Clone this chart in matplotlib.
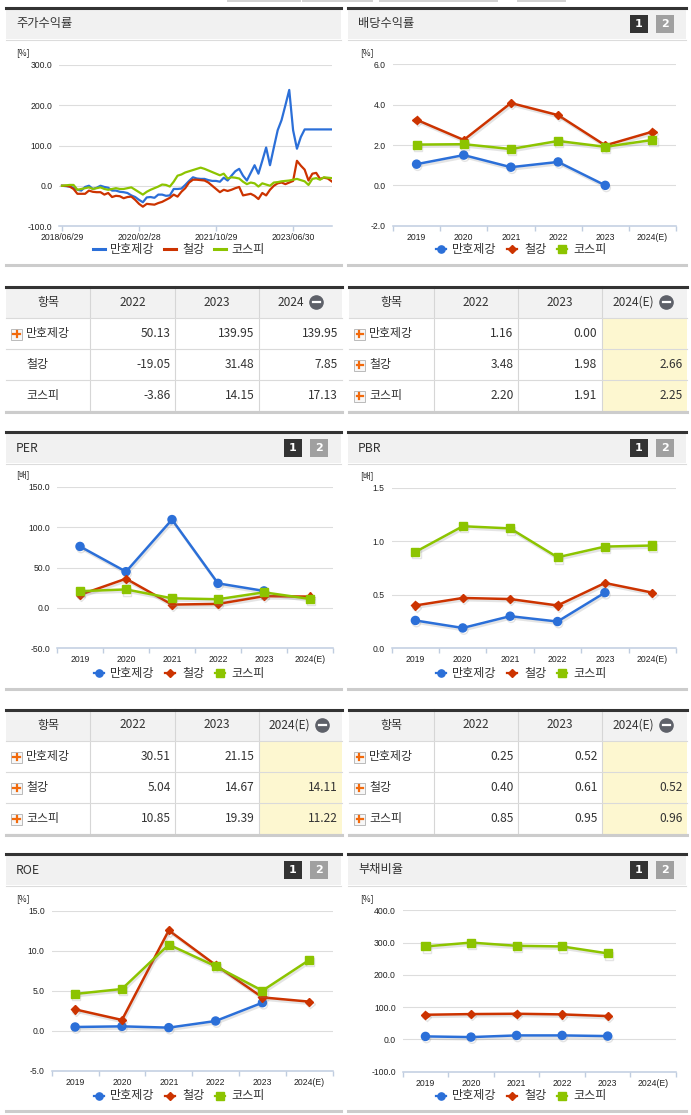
import numpy as np
import matplotlib
matplotlib.use('Agg')
import matplotlib.pyplot as plt
from matplotlib.patches import Rectangle
from matplotlib.lines import Line2D
import matplotlib.patheffects as pe

plt.rcParams['font.family'] = ['Noto Sans CJK KR', 'DejaVu Sans']

W, H = 691, 1115
BLUE, RED, GREEN = '#2b6fd8', '#cc3300', '#8cc400'
NUMF = 'Liberation Sans'

names = ['만호제강', '철강', '코스피']
years = ['2019', '2020', '2021', '2022', '2023', '2024(E)']
nan = np.nan

# 주가수익률 (monthly, 2018/06 .. 2024/04)
ret_dates = ['2018/06/29', '2020/02/28', '2021/10/29', '2023/06/30']
ret_mh = [0, -1, -2, -5, -10, -12, -3, 0, -8, -5, 0, -3, -5, -12, -12, -15,
          -16, -18, -24, -28, -35, -41, -29, -28, -30, -22, -22, -25, -24, -8,
          -8, -7, 2, 12, 21, 18, 17, 17, 14, 12, 12, 10, 20, 13, 25, 36, 42,
          25, 13, 32, 51, 30, 62, 95, 51, 95, 138, 163, 200, 238, 138, 92, 121,
          139.95, 139.95, 139.95, 139.95, 139.95, 139.95, 139.95, 139.95]
ret_st = [0, 0, -2, -8, -20, -20, -20, -12, -15, -16, -16, -22, -18, -28, -25,
          -26, -31, -28, -27, -35, -45, -52, -45, -46, -47, -43, -40, -35, -30,
          -22, -27, -15, -6, 8, 15, 15, 14, 13, 8, 0, -8, -16, -10, -13, -10,
          -6, -3, -24, -22, -20, -25, -33, -18, -24, -10, 0, 6, 8, 4, 8, 12,
          62, 50, 40, 13, 30, 32, 17, 20, 18, 11]
ret_ks = [0, 1, 2, 2, -10, -8, -6, -4, -8, -6, -4, -8, -10, -8, -6, -8, -8, -6,
          -4, -10, -16, -22, -15, -10, -6, -2, 3, 2, -2, 10, 25, 28, 33, 36, 39,
          42, 45, 42, 38, 34, 30, 26, 30, 18, 21, 20, 18, 10, 4, 8, 6, -2, 6, 3,
          0, 8, 9, 11, 12, 13, 15, 17, 14, 11, 2, 17, 19, 15, 21, 20, 19]

div_mh = [1.05, 1.50, 0.90, 1.16, 0.00, nan]
div_st = [3.25, 2.25, 4.08, 3.48, 1.98, 2.66]
div_ks = [2.02, 2.04, 1.80, 2.20, 1.91, 2.25]
per_mh = [76.3, 45.0, 109.6, 30.51, 21.15, nan]
per_st = [16.3, 36.3, 4.2, 5.04, 14.67, 14.11]
per_ks = [20.8, 23.0, 12.0, 10.85, 19.39, 11.22]
pbr_mh = [0.26, 0.19, 0.30, 0.25, 0.52, nan]
pbr_st = [0.40, 0.47, 0.46, 0.40, 0.61, 0.52]
pbr_ks = [0.90, 1.14, 1.12, 0.85, 0.95, 0.96]
roe_mh = [0.50, 0.58, 0.42, 1.25, 3.54, nan]
roe_st = [2.70, 1.38, 12.58, 8.25, 4.20, 3.67]
roe_ks = [4.63, 5.25, 10.80, 8.10, 5.04, 8.88]
debt_mh = [9.3, 7.2, 12.4, 12.4, 10.3, nan]
debt_st = [76.4, 78.5, 79.5, 77.5, 72.3, nan]
debt_ks = [288, 300, 290, 288, 266.5, nan]

# tables
tbl_ret_hd = ['2022', '2023', '2024']
tbl_ret = [['50.13', '139.95', '139.95'], ['-19.05', '31.48', '7.85'],
           ['-3.86', '14.15', '17.13']]
tbl_e_hd = ['2022', '2023', '2024(E)']
tbl_div = [['1.16', '0.00', ''], ['3.48', '1.98', '2.66'], ['2.20', '1.91', '2.25']]
tbl_per = [['30.51', '21.15', ''], ['5.04', '14.67', '14.11'],
           ['10.85', '19.39', '11.22']]
tbl_pbr = [['0.25', '0.52', ''], ['0.40', '0.61', '0.52'], ['0.85', '0.95', '0.96']]

fig = plt.figure(figsize=(W / 100, H / 100), dpi=100)
fig.patch.set_facecolor('white')


def fx(x):
    return x / W


def fy(y):
    return 1 - y / H


def rect(x0, y0, x1, y1, **kw):
    fig.add_artist(Rectangle((fx(x0), fy(y1)), (x1 - x0) / W, (y1 - y0) / H,
                             transform=fig.transFigure, **kw))


def seg(xs, ys, **kw):
    fig.add_artist(Line2D([fx(v) for v in xs], [fy(v) for v in ys],
                          transform=fig.transFigure, **kw))


# cropped tabs at the very top
for a, b in [(228, 300), (303, 372), (380, 497), (518, 565)]:
    seg([a, b], [0.8, 0.8], color='#d0d0d0', lw=1.4)


def panel(x0, x1, top, title):
    rect(x0, top, x1, top + 32, facecolor='#f1f1f1', edgecolor='none')
    seg([x0, x1], [top + 1, top + 1], color='#333333', lw=2.2)
    seg([x0, x1], [top + 32.5, top + 32.5], color='#dcdcdc', lw=0.8)
    seg([x0, x1], [top + 258, top + 258], color='#cccccc', lw=2.2)
    fig.text(fx(x0 + 10), fy(top + 17), title, fontsize=8.8, color='#333333',
             va='center', ha='left')


def buttons(x1, top):
    for i, (lab, col) in enumerate([('1', '#333333'), ('2', '#a0a0a0')]):
        bx = x1 - 56 + i * 26
        rect(bx, top + 8, bx + 18, top + 26, facecolor=col, edgecolor='none')
        fig.text(fx(bx + 9), fy(top + 17), lab, fontsize=8, color='white',
                 fontweight='bold', ha='center', va='center', family='DejaVu Sans')


SHADOW = [pe.SimpleLineShadow(offset=(0.8, -1.6), shadow_color='#888888', alpha=0.22),
          pe.Normal()]


def style_axis(ax, ylim, yticks, fmt):
    ax.set_facecolor('none')
    ax.set_ylim(ylim)
    ax.set_yticks(yticks)
    ax.set_yticklabels([fmt % v for v in yticks], fontsize=6.2, family=NUMF,
                       color='#222222')
    for s in ['top', 'right', 'left']:
        ax.spines[s].set_visible(False)
    ax.spines['bottom'].set_color('#c0cde0')
    ax.spines['bottom'].set_linewidth(1.1)
    ax.tick_params(axis='y', length=0, pad=5)
    for v in yticks[1:]:
        ax.axhline(v, color='#dddddd', lw=0.8, zorder=0)


def legend(cx, y, markers):
    offs = [(-79, -68), (-8, 4), (42, 53)]
    for (mo, to), nm, (col, mk, ms) in zip(offs, names, markers):
        mx = cx + mo
        if mk is None:
            seg([mx - 6, mx + 6], [y, y], color=col, lw=2.2)
        else:
            seg([mx - 5, mx + 5], [y, y], color=col, lw=1.6)
            seg([mx], [y], color=col, marker=mk, ms=ms, lw=0)
        fig.text(fx(cx + to), fy(y), nm, fontsize=8.7, color='#333333',
                 ha='left', va='center')


MK = [(BLUE, 'o', 5.2), (RED, 'D', 3.6), (GREEN, 's', 5.2)]


def cat_chart(px0, px1, py0, py1, ylim, yticks, series, unit, ux, cx, leg_y):
    ax = fig.add_axes([fx(px0), fy(py1), (px1 - px0) / W, (py1 - py0) / H])
    style_axis(ax, ylim, yticks, '%.1f')
    ax.set_xlim(-0.5, 5.5)
    ax.set_xticks(range(6))
    ax.set_xticklabels(years, fontsize=6.2, family=NUMF, color='#222222')
    ax.set_xticks(np.arange(-0.5, 6, 1), minor=True)
    ax.tick_params(axis='x', which='major', length=0, pad=5)
    ax.tick_params(axis='x', which='minor', length=3.5, color='#c0cde0', width=1)
    for vals, (col, mk, ms) in zip(series, MK):
        ax.plot(range(6), vals, color=col, lw=1.8, marker=mk, ms=ms + 0.6,
                mec=col, zorder=3, path_effects=SHADOW, clip_on=False)
    fig.text(fx(ux), fy(py0 - 12), unit, fontsize=6, color='#222222',
             ha='left', va='center')
    legend(cx, leg_y, MK)
    return ax


def table(x0, x1, top, header, rows, icons, yellow):
    cols = [x0, x0 + 84.5, x0 + 168.5, x0 + 252.5, x1]
    rh = 31
    bottom = top + 32 + 3 * rh
    rect(x0, top, x1, top + 32, facecolor='#f2f2f2', edgecolor='none')
    if yellow:
        rect(cols[3], top + 32, x1, bottom, facecolor='#fdf7d0', edgecolor='none')
    for c in cols[1:-1]:
        seg([c, c], [top, bottom], color='#d6d6d6', lw=0.8)
    for r in range(4):
        yy = top + 32 + r * rh
        seg([x0, x1], [yy, yy], color='#dadada', lw=0.8)
    seg([x0, x1], [top + 1, top + 1], color='#333333', lw=2.2)
    seg([x0, x1], [bottom + 1, bottom + 1], color='#cccccc', lw=2.2)
    hy = top + 16
    fs = 8.6
    fig.text(fx((cols[0] + cols[1]) / 2), fy(hy), '항목', fontsize=fs,
             color='#333333', ha='center', va='center')
    for i, h in enumerate(header):
        cc = (cols[i + 1] + cols[i + 2]) / 2
        if i < 2:
            fig.text(fx(cc), fy(hy), h, fontsize=fs, color='#333333',
                     ha='center', va='center')
        else:
            te = cc + (4 if len(h) == 4 else 10)
            fig.text(fx(te), fy(hy), h, fontsize=fs, color='#333333',
                     ha='right', va='center')
            ix = te + 12
            seg([ix], [hy], marker='o', ms=9.5, color='#5e6169', lw=0)
            seg([ix - 3.5, ix + 3.5], [hy, hy], color='white', lw=1.6)
    for r, (nm, vals) in enumerate(zip(names, rows)):
        yc = top + 32 + r * rh + rh / 2
        if icons[r]:
            bx = x0 + 5
            rect(bx, yc - 5, bx + 11, yc + 6, facecolor='#f7f7f7',
                 edgecolor='#bbbbbb', lw=0.7)
            seg([bx + 2.5, bx + 8.5], [yc + 0.5, yc + 0.5], color='#f26a0c', lw=1.6)
            seg([bx + 5.5, bx + 5.5], [yc - 2.5, yc + 3.5], color='#f26a0c', lw=1.6)
        fig.text(fx(x0 + 20), fy(yc), nm, fontsize=fs, color='#333333',
                 ha='left', va='center')
        for i, v in enumerate(vals):
            fig.text(fx(cols[i + 2] - 4), fy(yc), v, fontsize=fs, color='#333333',
                     ha='right', va='center')


LX0, LX1, RX0, RX1 = 6, 341, 348, 686
TOPS = [7, 431, 853]

# ---- row 0
panel(LX0, LX1, TOPS[0], '주가수익률')
panel(RX0, RX1, TOPS[0], '배당수익률')
buttons(RX1, TOPS[0])

ax = fig.add_axes([fx(59.3), fy(226), (332 - 59.3) / W, (226 - 65) / H])
yt = [-100, 0, 100, 200, 300]
style_axis(ax, (-100, 300), yt, '%.1f')
xi = np.arange(len(ret_mh))
ax.set_xlim(-0.7, 70.1)
ax.set_xticks([0, 20, 40, 60])
ax.set_xticklabels(ret_dates, fontsize=6.2, family=NUMF, color='#222222')
ax.tick_params(axis='x', length=3.5, color='#c0cde0', width=1, pad=1.5)
for vals, col in [(ret_mh, BLUE), (ret_st, RED), (ret_ks, GREEN)]:
    ax.plot(xi, vals, color=col, lw=1.6, zorder=3)
fig.text(fx(16), fy(53), '[%]', fontsize=6, color='#222222', ha='left', va='center')
legend(178, 249, [(BLUE, None, 0), (RED, None, 0), (GREEN, None, 0)])

cat_chart(393, 676, 64.3, 225.7, (-2, 6), [-2, 0, 2, 4, 6],
          [div_mh, div_st, div_ks], '[%]', 360, 520, 249)

table(LX0, 342, 286, tbl_ret_hd, tbl_ret, [True, False, False], False)
table(349, 687, 286, tbl_e_hd, tbl_div, [True, True, True], True)

# ---- row 1
panel(LX0, LX1, TOPS[1], 'PER')
buttons(LX1 - 1, TOPS[1])
panel(RX0, RX1, TOPS[1], 'PBR')
buttons(RX1, TOPS[1])
cat_chart(57, 333, 487, 648.3, (-50, 150), [-50, 0, 50, 100, 150],
          [per_mh, per_st, per_ks], '[배]', 16, 178, 673)
cat_chart(391.7, 676, 487.7, 648.3, (0, 1.5), [0, 0.5, 1.0, 1.5],
          [pbr_mh, pbr_st, pbr_ks], '[배]', 360, 520, 673)

table(LX0, 342, 709, tbl_e_hd, tbl_per, [True, True, True], True)
table(349, 687, 709, tbl_e_hd, tbl_pbr, [True, True, True], True)

# ---- row 2
panel(LX0, LX1, TOPS[2], 'ROE')
buttons(LX1 - 1, TOPS[2])
panel(RX0, RX1, TOPS[2], '부채비율')
buttons(RX1, TOPS[2])
cat_chart(51.7, 332.7, 911, 1071, (-5, 15), [-5, 0, 5, 10, 15],
          [roe_mh, roe_st, roe_ks], '[%]', 16, 178, 1095.5)
cat_chart(402.7, 676, 910.3, 1071.7, (-100, 400), [-100, 0, 100, 200, 300, 400],
          [debt_mh, debt_st, debt_ks], '[%]', 360, 520, 1095.5)

fig.savefig('out.png', dpi=100, facecolor='white')
